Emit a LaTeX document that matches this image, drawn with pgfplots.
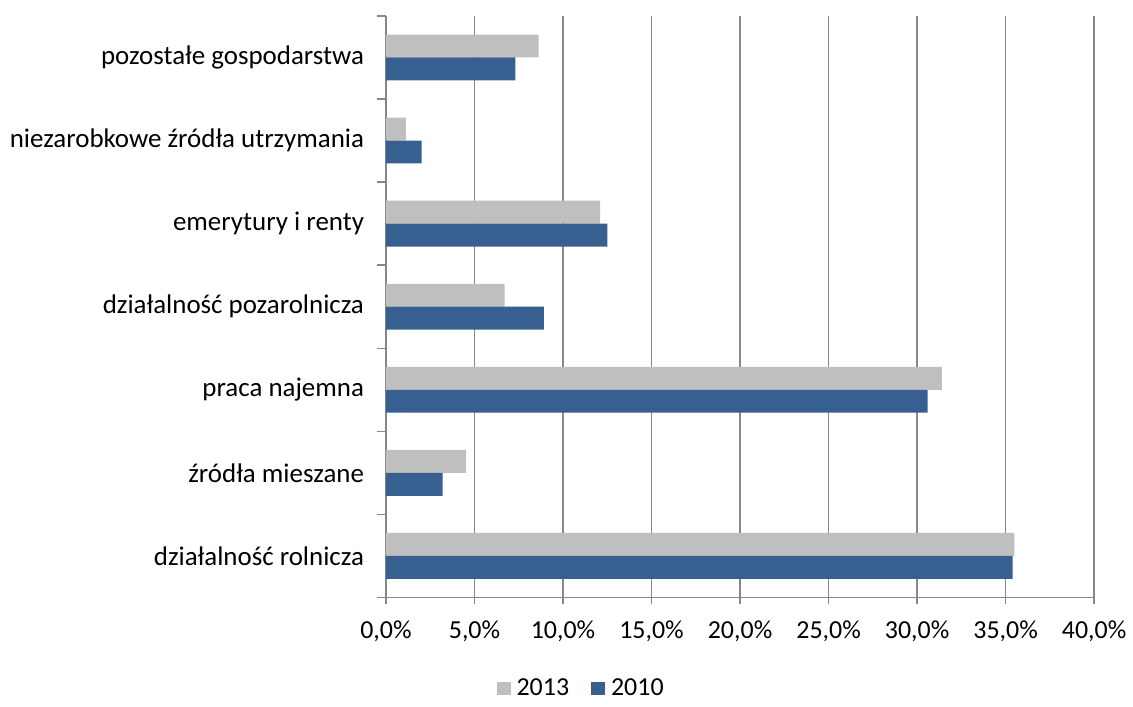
\documentclass[border=0pt]{standalone}
\usepackage{pgfplots}
\pgfplotsset{compat=1.18}
\usepackage{fontspec}
\setmainfont{Carlito}
\definecolor{bargray}{HTML}{BFBFBF}
\definecolor{barblue}{HTML}{376091}
\definecolor{gridgray}{HTML}{878787}

\begin{document}
\begin{tikzpicture}
\begin{axis}[
    name=ax,
    xbar,
    scale only axis,
    width=355pt,
    height=291.5pt,
    xmin=0, xmax=40,
    ymin=-0.5, ymax=6.5,
    bar width=0.276,
    xtick={0,5,...,40},
    xticklabels={{0,0\%},{5,0\%},{10,0\%},{15,0\%},{20,0\%},{25,0\%},{30,0\%},{35,0\%},{40,0\%}},
    ytick={0,...,6},
    yticklabels={działalność rolnicza, źródła mieszane, praca najemna, działalność pozarolnicza, emerytury i renty, niezarobkowe źródła utrzymania, pozostałe gospodarstwa},
    major tick length=0pt,
    extra y ticks={-0.5,0.5,...,6.5},
    extra y tick labels={},
    extra y tick style={major tick length=4.5pt, tick align=outside, grid=none},
    extra x ticks={0,5,...,40},
    extra x tick labels={},
    extra x tick style={major tick length=3.5pt, tick align=outside, grid=none},
    axis x line*=bottom,
    axis y line*=left,
    axis line style={draw=gridgray, line width=0.7pt, -},
    every tick/.style={draw=gridgray, line width=0.7pt},
    xmajorgrids,
    grid style={draw=gridgray, line width=0.7pt},
    xticklabel style={font=\fontsize{13}{15}\selectfont, text=black, yshift=-8pt},
    yticklabel style={font=\fontsize{13.5}{16}\selectfont, text=black, xshift=-7.5pt},
    clip=false,
    legend style={draw=none, fill=none, legend columns=2, at={(rel axis cs:0.277,-0.157)}, anchor=center, font=\fontsize{13}{15}\selectfont, /tikz/every even column/.append style={column sep=9pt}},
    legend image code/.code={\fill[#1] (0pt,-3.3pt) rectangle (7pt,3.3pt); \path (0pt,0pt) -- (8pt,0pt);},
]
\addplot[fill=bargray, draw=none, bar shift=0.138] coordinates {
    (35.5,0) (4.52,1) (31.4,2) (6.7,3) (12.1,4) (1.13,5) (8.62,6)
};
\addlegendentry{2013}
\addplot[fill=barblue, draw=none, bar shift=-0.138] coordinates {
    (35.4,0) (3.2,1) (30.6,2) (8.92,3) (12.5,4) (2.01,5) (7.31,6)
};
\addlegendentry{2010}
\end{axis}
\path ([shift={(-193.5pt,-49pt)}]ax.south west) rectangle ([shift={(18pt,8pt)}]ax.north east);
\end{tikzpicture}
\end{document}
